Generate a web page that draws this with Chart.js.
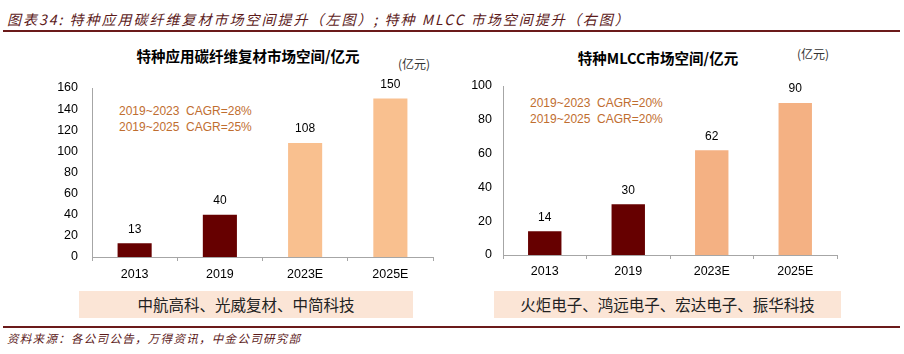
<!DOCTYPE html>
<html><head><meta charset="utf-8">
<script src="https://cdn.jsdelivr.net/npm/chart.js@4.4.0/dist/chart.umd.min.js"></script>
<style>
html,body{margin:0;padding:0;background:#fff;}
#wrap{position:relative;width:904px;height:354px;overflow:hidden;font-family:"Noto Sans CJK SC","Liberation Sans",sans-serif;}
.abs{position:absolute;white-space:nowrap;}
#hdr{left:7px;top:9px;font-size:14px;letter-spacing:2px;font-style:italic;color:#5C1A1A;line-height:20px;}
.rule{position:absolute;left:3px;width:897px;height:2px;background:#6B1A1A;}
.ctitle{font-size:14.5px;font-weight:bold;color:#000;transform:translateX(-50%);}
.unit{font-size:12px;color:#333;}
.cagr{font-family:"Liberation Sans",Arial,sans-serif;font-size:12px;color:#BF6E30;line-height:16px;}
.box{position:absolute;background:#FBE5D6;height:27px;font-size:15.5px;color:#222;text-align:center;line-height:27px;}
#src{left:7px;top:330px;font-size:11.5px;letter-spacing:1.3px;font-style:italic;color:#5C1A1A;line-height:16px;}
canvas{position:absolute;}
</style></head>
<body><div id="wrap">
<div id="hdr" class="abs">图表34: 特种应用碳纤维复材市场空间提升（左图）; 特种 MLCC 市场空间提升（右图）</div>
<div class="rule" style="top:30px;"></div>
<div class="abs ctitle" style="left:248px;top:45px;">特种应用碳纤维复材市场空间/亿元</div>
<div class="abs unit" style="left:398px;top:55px;">(亿元)</div>
<div class="abs ctitle" style="left:658px;top:47px;">特种MLCC市场空间/亿元</div>
<div class="abs unit" style="left:797px;top:45px;">(亿元)</div>
<div class="abs cagr" style="left:119px;top:103px;">2019~2023&nbsp;&nbsp;CAGR=28%<br>2019~2025&nbsp;&nbsp;CAGR=25%</div>
<div class="abs cagr" style="left:530px;top:95px;">2019~2023&nbsp;&nbsp;CAGR=20%<br>2019~2025&nbsp;&nbsp;CAGR=20%</div>
<canvas id="c1" width="450" height="250" style="left:0;top:40px;width:450px;height:250px;"></canvas>
<canvas id="c2" width="400" height="250" style="left:450px;top:40px;width:400px;height:250px;"></canvas>
<div class="box" style="left:79px;top:291px;width:334px;">中航高科、光威复材、中简科技</div>
<div class="box" style="left:494px;top:291px;width:347px;">火炬电子、鸿远电子、宏达电子、振华科技</div>
<div class="rule" style="top:326px;"></div>
<div id="src" class="abs">资料来源：各公司公告，万得资讯，中金公司研究部</div>
</div>
<script>
const categories = ['2013', '2019', '2023E', '2025E'];
const carbonValues = [13, 40, 108, 150];
const mlccValues = [14, 30, 62, 90];
const carbonTicks = [0, 20, 40, 60, 80, 100, 120, 140, 160];
const mlccTicks = [0, 20, 40, 60, 80, 100];

Chart.defaults.font.family = '"Liberation Sans", Arial, sans-serif';
Chart.defaults.font.size = 12;
Chart.defaults.color = '#000';
Chart.defaults.animation = false;

const valueLabels = {
  id: 'valueLabels',
  afterDatasetsDraw(chart) {
    const ctx = chart.ctx;
    const meta = chart.getDatasetMeta(0);
    const vals = chart.data.datasets[0].data;
    ctx.save();
    ctx.font = '12px "Liberation Sans", Arial, sans-serif';
    ctx.fillStyle = '#000';
    ctx.textAlign = 'center';
    ctx.textBaseline = 'bottom';
    meta.data.forEach((bar, i) => {
      ctx.fillText(String(vals[i]), bar.x, bar.y - 8);
    });
    ctx.restore();
  }
};

function makeChart(id, values, ticks, colors, yWidth, xHeight, pad, tickPad, xPad) {
  const max = ticks[ticks.length - 1];
  return new Chart(document.getElementById(id), {
    type: 'bar',
    data: {
      labels: categories,
      datasets: [{
        data: values,
        backgroundColor: colors,
        borderWidth: 0,
        barPercentage: 0.4,
        categoryPercentage: 1.0
      }]
    },
    options: {
      responsive: false,
      maintainAspectRatio: false,
      layout: { padding: pad },
      plugins: { legend: { display: false }, tooltip: { enabled: false } },
      scales: {
        x: {
          offset: true,
          grid: { display: true, drawOnChartArea: false, drawTicks: true, tickLength: 4, offset: true, color: '#A6A6A6' },
          border: { display: true, color: '#A6A6A6', width: 1 },
          ticks: { padding: xPad, font: { size: 12.5 }, color: '#000' },
          afterFit(s) { s.height = xHeight; }
        },
        y: {
          min: 0, max: max,
          afterBuildTicks(s) { s.ticks = ticks.map(v => ({ value: v })); },
          grid: { display: false, drawTicks: false },
          border: { display: true, color: '#A6A6A6', width: 1 },
          ticks: { padding: tickPad, font: { size: 12.5 }, color: '#000' },
          afterFit(s) { s.width = yWidth; }
        }
      }
    },
    plugins: [valueLabels]
  });
}

makeChart('c1', carbonValues, carbonTicks, ['#660000', '#660000', '#F9C08F', '#F9C08F'],
  92, 33, { left: 0, right: 17, top: 48, bottom: 0 }, 14, 6);
makeChart('c2', mlccValues, mlccTicks, ['#660000', '#660000', '#F4B183', '#F4B183'],
  53, 35, { left: 0, right: 13, top: 46, bottom: 0 }, 11, 5);
</script>
</body></html>
